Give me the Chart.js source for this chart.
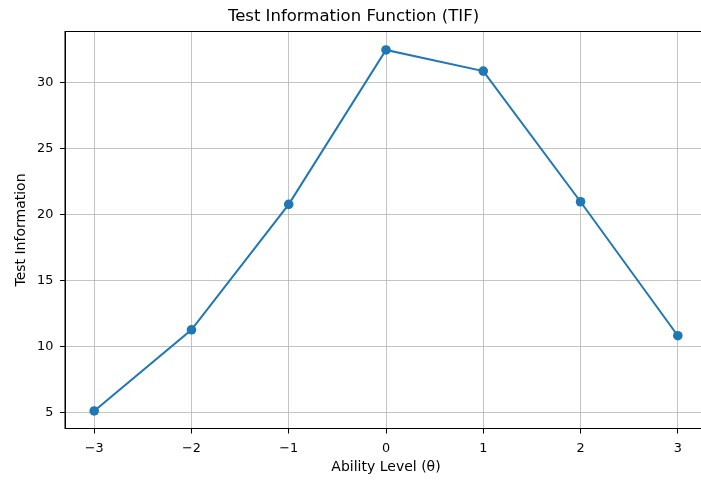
<!DOCTYPE html>
<html>
<head>
<meta charset="utf-8">
<script src="https://cdn.jsdelivr.net/npm/chart.js@4"></script>
<style>
  html, body { margin: 0; padding: 0; background: #fff; overflow: hidden; }
</style>
</head>
<body>
<canvas id="tifChart" width="712" height="480"></canvas>
<script>
// values
const abilityLevels = [-3, -2, -1, 0, 1, 2, 3];
const testInformation = [5.15, 11.3, 20.8, 32.5, 30.9, 21.0, 10.85];
const xTicks = [-3, -2, -1, 0, 1, 2, 3];
const yTicks = [5, 10, 15, 20, 25, 30];

const font = 'DejaVu Sans';
const gridColor = 'rgba(176, 176, 176, 0.75)';

// top/right spines like matplotlib
const frame = {
  id: 'frame',
  afterDatasetsDraw(chart) {
    const { ctx, chartArea: a } = chart;
    ctx.save();
    ctx.strokeStyle = '#000';
    ctx.lineWidth = 1;
    ctx.strokeRect(a.left, a.top, a.right - a.left, a.bottom - a.top);
    ctx.restore();
  }
};

const ctx = document.getElementById('tifChart').getContext('2d');
new Chart(ctx, {
  type: 'line',
  data: {
    datasets: [{
      data: abilityLevels.map((x, i) => ({ x: x, y: testInformation[i] })),
      borderColor: '#1f77b4',
      backgroundColor: '#1f77b4',
      borderWidth: 2,
      pointRadius: 4.8,
      pointBorderWidth: 0,
      tension: 0,
      fill: false
    }]
  },
  options: {
    responsive: false,
    animation: false,
    layout: { padding: { top: 0, right: 5, bottom: 0, left: 0 } },
    plugins: {
      legend: { display: false },
      tooltip: { enabled: false },
      title: {
        display: true,
        text: 'Test Information Function (TIF)',
        color: '#000',
        font: { family: font, size: 16.5, weight: 'normal' },
        padding: { top: 7, bottom: 4.7 }
      }
    },
    scales: {
      x: {
        type: 'linear',
        min: -3.3,
        max: 3.3,
        afterBuildTicks: axis => { axis.ticks = xTicks.map(v => ({ value: v })); },
        afterFit: axis => { axis.height = 51.5; },
        ticks: {
          color: '#000',
          font: { family: font, size: 12.8 },
          padding: 7.5,
          maxRotation: 0,
          callback: v => String(v).replace('-', '\u2212')
        },
        grid: { color: gridColor, tickColor: '#000', tickLength: 5, lineWidth: 1 },
        border: { display: true, color: '#000', width: 1 },
        title: {
          display: true,
          text: 'Ability Level (\u03b8)',
          color: '#000',
          font: { family: font, size: 14 },
          padding: { top: 0, bottom: 4.2 }
        }
      },
      y: {
        type: 'linear',
        min: 3.82,
        max: 33.9,
        afterBuildTicks: axis => { axis.ticks = yTicks.map(v => ({ value: v })); },
        afterFit: axis => { axis.width = 65; },
        ticks: {
          color: '#000',
          font: { family: font, size: 12.8 },
          padding: 6.7
        },
        grid: { color: gridColor, tickColor: '#000', tickLength: 5, lineWidth: 1 },
        border: { display: true, color: '#000', width: 1 },
        title: {
          display: true,
          text: 'Test Information',
          color: '#000',
          font: { family: font, size: 14 },
          padding: { top: 13.4, bottom: 0 }
        }
      }
    }
  },
  plugins: [frame]
});
</script>
</body>
</html>
